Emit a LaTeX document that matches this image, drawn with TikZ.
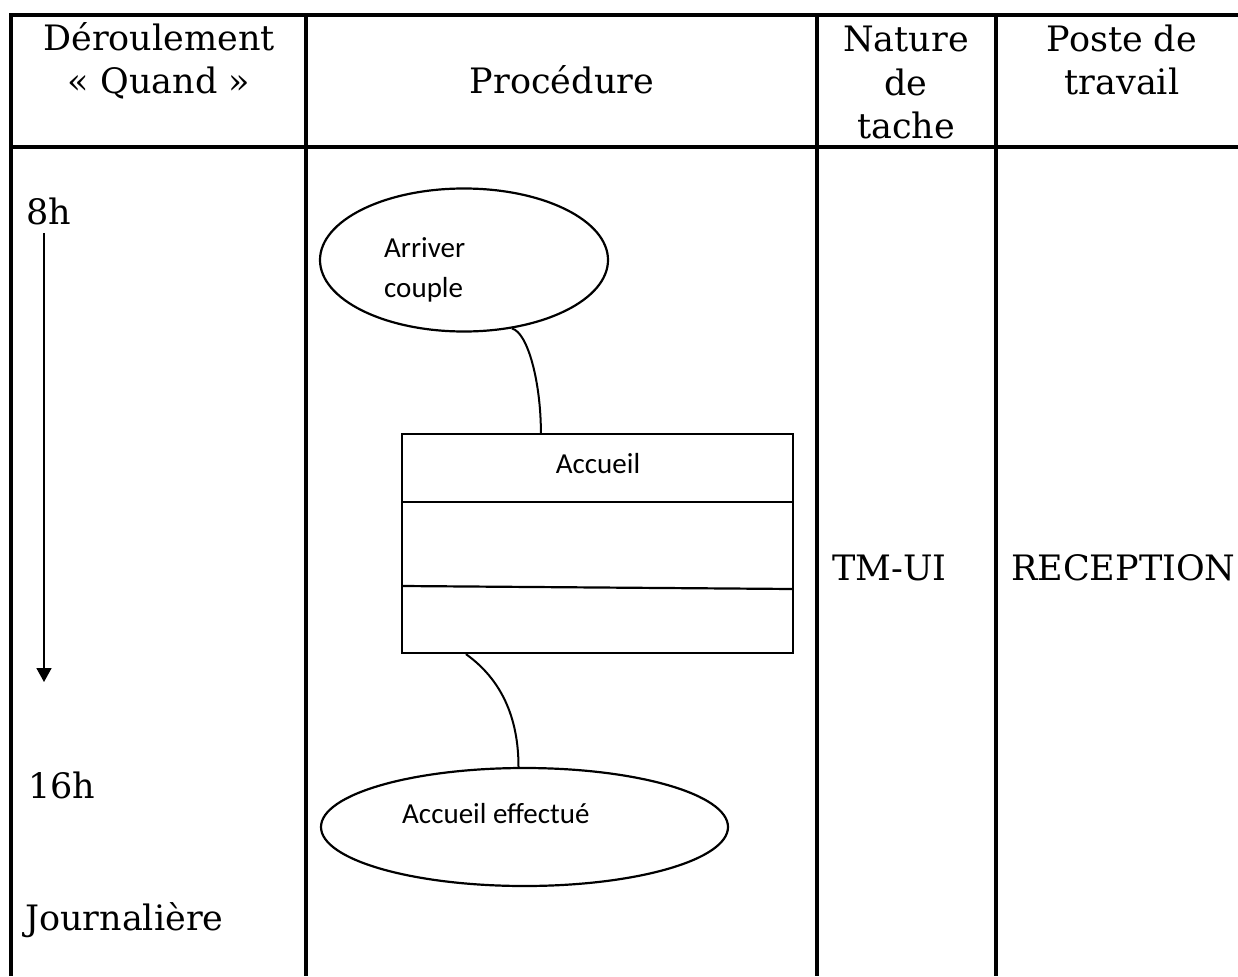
\documentclass[tikz,border=0pt]{standalone}
\usepackage{fontspec}
\usetikzlibrary{shapes.geometric,arrows.meta,calc}
\newfontfamily\srffont{DejaVu Serif}
\newfontfamily\calfont{Carlito}
\begin{document}
\begin{tikzpicture}[x=1pt,y=-1pt,
  serif/.style={inner sep=0pt,font=\srffont\fontsize{35}{43.5}\selectfont},
  hdr/.style={serif,align=center,anchor=base},
  cal/.style={inner sep=0pt,font=\calfont\fontsize{29}{41}\selectfont},
  tbl/.style={line width=3.2pt},
  shp/.style={draw,line width=2.2pt},
  conn/.style={line width=2pt}]
\useasboundingbox (0,0) rectangle (1238,976);
% table
\draw[tbl] (1238,15) -- (11,15) -- (11,976);
\draw[tbl] (11,147) -- (1238,147);
\draw[tbl] (306,15) -- (306,976);
\draw[tbl] (817,15) -- (817,976);
\draw[tbl] (996,15) -- (996,976);
% header (anchor base = baseline of last line)
\node[hdr] (h1) at (159,94) {Déroulement\\« Quand »};
\node[hdr] (h2) at (562,94) {Procédure};
\node[hdr] (h3) at (906,139) {Nature\\de\\tache};
\node[hdr] (h4) at (1122,95) {Poste de\\travail};
% first column
\node[serif,anchor=base west] (t8) at (26,225) {8h};
\node[serif,anchor=base west] (t16) at (28,798) {16h};
\node[serif,anchor=base west] (tj) at (25,930) {Journalière};
\coordinate (a1) at (44,233);
\coordinate (a2) at (44,682);
\draw[line width=1.8pt,-{Triangle[width=15pt,length=14pt]}] (a1) -- (a2);
% other columns
\node[serif,anchor=base west] (tm) at (832,580) {TM-UI};
\node[serif,anchor=base west] (rc) at (1011,580) {RECEPTION};
% procedure
\node[shp,ellipse,minimum width=288pt,minimum height=143pt] (e1) at (464,260) {};
\node[cal,anchor=base west] (e1a) at (384,257) {Arriver};
\node[cal,anchor=base west] (e1b) at (384,297) {couple};
\node[shp,rectangle,minimum width=391pt,minimum height=219pt,inner sep=0pt] (box) at (597.5,543.5) {};
\node[cal,anchor=base] (acc) at (598,473) {Accueil};
\coordinate (l1a) at (402,502);
\coordinate (l1b) at (793,502);
\coordinate (l2a) at (402,586);
\coordinate (l2b) at (793,589);
\draw[line width=2.2pt] (l1a) -- (l1b);
\draw[line width=2.2pt] (l2a) -- (l2b);
\node[shp,ellipse,minimum width=407pt,minimum height=118pt] (e2) at (524.5,827) {};
\node[cal,anchor=base west] (e2a) at (402,823) {Accueil effectué};
% connectors
\coordinate (c1) at ($(box.north west)+(140,0)$);
\draw[conn] (e1.-55) .. controls ($(e1.-55)+(16,4)$) and ($(c1)+(0,-50)$) .. (c1);
\coordinate (c2) at ($(box.south west)+(65,0)$);
\draw[conn] (c2) .. controls ($(c2)+(35,25)$) and ($(e2.north)+(-6,-50)$) .. ($(e2.north)+(-6,0)$);
\end{tikzpicture}
\end{document}
